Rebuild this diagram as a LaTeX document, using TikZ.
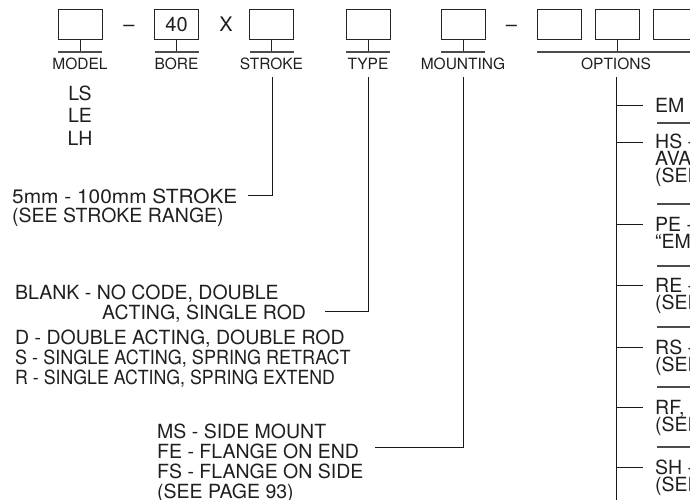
\documentclass[tikz,border=0pt]{standalone}
\usepackage{fontspec}
\setmainfont{TeX Gyre Heros}
\begin{document}
\begin{tikzpicture}[x=1pt,y=-1pt,
  codebox/.style={draw=black!85, line width=0.8pt, minimum width=44pt, minimum height=30pt, inner sep=0pt},
  uline/.style={draw=black!70, line width=1.8pt},
  stem/.style={draw=black!85, line width=0.8pt},
  conn/.style={draw=black!90, line width=0.8pt},
  lbl/.style={font=\fontsize{15.5}{16}\selectfont, text=black!88, inner sep=0pt, anchor=base},
  desc/.style={font=\fontsize{19.5}{20}\selectfont, text=black!88, inner sep=0pt, anchor=base west},
  big/.style={font=\fontsize{20}{20}\selectfont, text=black!88, inner sep=0pt, anchor=base}]
\useasboundingbox (0,0) rectangle (690,499);
\clip (0,0) rectangle (690,499);
% boxes
\node[codebox] (bmodel) at (80,24) {};
\node[codebox] (bbore) at (176.5,24) {};
\node[big] (forty) at (176.5,31) {40};
\node[codebox] (bstroke) at (271.5,24) {};
\node[codebox] (btype) at (368,24) {};
\node[codebox] (bmount) at (463,24) {};
\node[codebox] (bopt1) at (559,24) {};
\node[codebox] (bopt2) at (617,24) {};
\node[codebox] (bopt3) at (675,24) {};
\node[big] (dash1) at (129,31) {–};
\node[big] (xmark) at (226,31) {X};
\node[big] (dash2) at (511.5,31) {–};
% stems and underlines
\foreach \b/\l/\r in {bmodel/58/102, bbore/154.5/198.5, bstroke/249.5/293.5, btype/346/390, bmount/441/485}{
  \draw[stem] (\b.south) -- (\b.south |- 0,52);
  \draw[uline] (\l,52) -- (\r,52);
}
\draw[stem] (bopt2.south) -- (bopt2.south |- 0,52);
\draw[uline] (537,52) -- (700,52);
% labels
\node[lbl] (lmodel) at (80,69.5) {MODEL};
\node[lbl] (lbore) at (176.5,69.5) {BORE};
\node[lbl] (lstroke) at (271.5,69.5) {STROKE};
\node[lbl] (ltype) at (368,69.5) {TYPE};
\node[lbl] (lmount) at (463,69.5) {MOUNTING};
\node[lbl] (lopt) at (616,69.5) {OPTIONS};
% model codes
\node[desc, anchor=base] (ls) at (80,100) {LS};
\node[desc, anchor=base] (le) at (80,122.5) {LE};
\node[desc, anchor=base] (lh) at (80,145) {LH};
% stroke
\coordinate (cstroke) at (272,77);
\node[desc] (s1) at (12,203) {\scalebox{1.07}[1]{5mm - 100mm STROKE}};
\node[desc] (s2) at (12,222) {(SEE STROKE RANGE)};
\coordinate (estroke) at (248,195);
\draw[conn] (cstroke) |- (estroke);
% type
\coordinate (ctype) at (368,77);
\node[desc] (t1) at (15,299) {BLANK - NO CODE, DOUBLE};
\node[desc] (t2) at (102,319) {ACTING, SINGLE ROD};
\node[desc] (t3) at (15,344) {D - DOUBLE ACTING, DOUBLE ROD};
\node[desc] (t4) at (15,364) {\scalebox{0.925}[1]{S - SINGLE ACTING, SPRING RETRACT}};
\node[desc] (t5) at (15,384) {\scalebox{0.91}[1]{R - SINGLE ACTING, SPRING EXTEND}};
\coordinate (etype) at (325,311);
\draw[conn] (ctype) |- (etype);
% mounting
\coordinate (cmount) at (463,77);
\node[desc] (m1) at (157,438) {MS - SIDE MOUNT};
\node[desc] (m2) at (157,458) {FE - FLANGE ON END};
\node[desc] (m3) at (157,478) {FS - FLANGE ON SIDE};
\node[desc] (m4) at (157,498) {(SEE PAGE 93)};
\coordinate (emount) at (375,447);
\draw[conn] (cmount) |- (emount);
% options
\coordinate (copt) at (616,77);
\coordinate (bot) at (616,505);
\draw[conn] (copt) -- (bot);
\foreach \n/\y in {em/105, hs/142, pe/224, re/285, rs/347, rf/407, sh/467}{
  \coordinate (k\n) at (643,\y);
  \draw[conn] (copt |- k\n) -- (k\n);
}
\foreach \y in {123, 204, 266, 327, 387, 447}{
  \draw[uline] (657,\y) -- (700,\y);
}
\node[desc] (oem) at (655,112) {EM};
\node[desc] (ohs1) at (655,148) {HS -};
\node[desc] (ohs2) at (655,165) {AVAI};
\node[desc] (ohs3) at (655,182) {(SEE};
\node[desc] (ope1) at (655,231) {PE -};
\node[desc] (ope2) at (655,248) {“EM};
\node[desc] (ore1) at (655,292) {RE -};
\node[desc] (ore2) at (655,309) {(SEE};
\node[desc] (ors1) at (655,354) {RS -};
\node[desc] (ors2) at (655,371) {(SEE};
\node[desc] (orf1) at (655,414) {RF,};
\node[desc] (orf2) at (655,431) {(SEE};
\node[desc] (osh1) at (655,474) {SH -};
\node[desc] (osh2) at (655,491) {(SEE};
\end{tikzpicture}
\end{document}
